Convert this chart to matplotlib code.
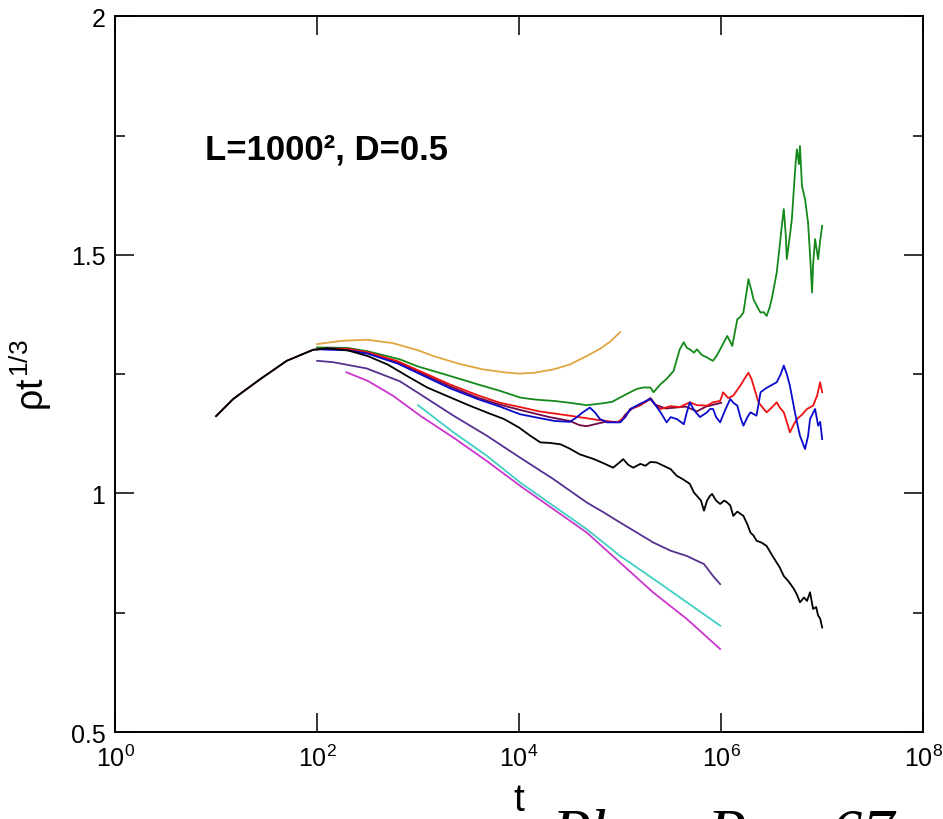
import numpy as np
import matplotlib.pyplot as plt
from matplotlib.ticker import FixedLocator, FixedFormatter, NullLocator

plt.rcParams['font.family'] = ['Liberation Sans', 'DejaVu Sans']
plt.rcParams['mathtext.fontset'] = 'custom'
plt.rcParams['mathtext.rm'] = 'Liberation Sans'
plt.rcParams['mathtext.it'] = 'Liberation Sans'
plt.rcParams['mathtext.bf'] = 'Liberation Sans:bold'

# --- data (log10 t, rho*t^(1/3)) ---
lt_black = [1.0, 1.17, 1.44, 1.70, 1.96, 2.1, 2.3, 2.5, 2.7, 2.9, 3.09, 3.3, 3.51, 3.7, 3.85, 4.0,
            4.11, 4.21, 4.3, 4.41, 4.5, 4.6, 4.74, 4.85, 4.93, 5.0, 5.03, 5.08, 5.13, 5.2, 5.25,
            5.3, 5.36, 5.43, 5.5, 5.56, 5.62, 5.69, 5.73, 5.76, 5.8, 5.83, 5.86, 5.89, 5.91, 5.95,
            5.99, 6.03, 6.06, 6.09, 6.12, 6.16, 6.22, 6.26, 6.29, 6.32, 6.35, 6.4, 6.45, 6.5, 6.55,
            6.58, 6.62, 6.67, 6.72, 6.75, 6.78, 6.82, 6.85, 6.88, 6.91, 6.94, 6.96, 6.98, 7.0]
y_black = [1.162, 1.198, 1.240, 1.278, 1.301, 1.304, 1.300, 1.288, 1.270, 1.245, 1.222, 1.203,
           1.184, 1.168, 1.156, 1.138, 1.121, 1.107, 1.106, 1.103, 1.094, 1.082, 1.072, 1.062,
           1.054, 1.066, 1.072, 1.060, 1.054, 1.062, 1.058, 1.066, 1.065, 1.058, 1.051, 1.037,
           1.030, 1.020, 1.002, 0.995, 0.985, 0.964, 0.985, 0.995, 0.999, 0.985, 0.978, 0.985,
           0.981, 0.975, 0.953, 0.962, 0.953, 0.935, 0.918, 0.912, 0.901, 0.897, 0.890, 0.872,
           0.855, 0.845, 0.827, 0.815, 0.800, 0.788, 0.772, 0.782, 0.775, 0.793, 0.758, 0.762,
           0.744, 0.738, 0.719]

lt_green = [2.0, 2.3, 2.5, 2.82, 3.0, 3.32, 3.6, 3.81, 4.01, 4.11, 4.2, 4.34, 4.5, 4.67, 4.83,
            4.92, 5.0, 5.08, 5.165, 5.23, 5.30, 5.33, 5.40, 5.46, 5.53, 5.56, 5.59, 5.63, 5.66,
            5.69, 5.73, 5.76, 5.81, 5.86, 5.89, 5.92, 5.96, 5.99, 6.03, 6.06, 6.09, 6.11, 6.16,
            6.19, 6.22, 6.25, 6.27, 6.30, 6.32, 6.36, 6.39, 6.42, 6.45, 6.48, 6.50, 6.53, 6.55,
            6.58, 6.60, 6.62, 6.64, 6.65, 6.68, 6.70, 6.72, 6.74, 6.75, 6.77, 6.78, 6.80, 6.83,
            6.86, 6.88, 6.90, 6.91, 6.93, 6.95, 6.96, 6.98, 7.0]
y_green = [1.306, 1.305, 1.298, 1.281, 1.266, 1.246, 1.228, 1.215, 1.201, 1.198, 1.196, 1.194,
           1.190, 1.185, 1.189, 1.192, 1.201, 1.210, 1.219, 1.222, 1.222, 1.212, 1.229, 1.240,
           1.257, 1.280, 1.302, 1.317, 1.305, 1.302, 1.295, 1.302, 1.290, 1.285, 1.281, 1.278,
           1.290, 1.302, 1.318, 1.330, 1.318, 1.309, 1.365, 1.370, 1.379, 1.420, 1.449, 1.425,
           1.407, 1.390, 1.379, 1.380, 1.372, 1.390, 1.407, 1.440, 1.463, 1.520, 1.560, 1.596,
           1.540, 1.491, 1.540, 1.575, 1.640, 1.700, 1.721, 1.690, 1.728, 1.644, 1.617, 1.568,
           1.500, 1.421, 1.480, 1.533, 1.505, 1.491, 1.530, 1.561]

lt_red = [2.0, 2.3, 2.5, 2.8, 3.0, 3.32, 3.6, 3.81, 4.01, 4.2, 4.5, 4.75, 4.97, 5.05, 5.10, 5.2,
          5.30, 5.35, 5.40, 5.5, 5.59, 5.69, 5.76, 5.86, 5.92, 5.99, 6.02, 6.07, 6.12, 6.19, 6.23,
          6.27, 6.30, 6.32, 6.37, 6.41, 6.45, 6.50, 6.55, 6.58, 6.62, 6.65, 6.68, 6.72, 6.75,
          6.80, 6.85, 6.91, 6.95, 6.98, 7.0]
y_red = [1.303, 1.303, 1.296, 1.277, 1.258, 1.228, 1.205, 1.190, 1.181, 1.172, 1.163, 1.155,
         1.149, 1.160, 1.177, 1.185, 1.198, 1.185, 1.177, 1.183, 1.181, 1.191, 1.185, 1.184,
         1.191, 1.194, 1.212, 1.200, 1.205, 1.226, 1.240, 1.253, 1.240, 1.226, 1.191, 1.180,
         1.170, 1.180, 1.191, 1.180, 1.170, 1.150, 1.128, 1.145, 1.156, 1.165, 1.177, 1.184,
         1.205, 1.233, 1.212]

lt_blue = [2.0, 2.3, 2.5, 2.8, 3.0, 3.32, 3.6, 3.81, 4.01, 4.2, 4.35, 4.5, 4.56, 4.63, 4.70,
           4.75, 4.80, 4.87, 5.0, 5.05, 5.10, 5.2, 5.30, 5.35, 5.40, 5.46, 5.50, 5.56, 5.60,
           5.63, 5.66, 5.69, 5.73, 5.79, 5.86, 5.89, 5.92, 5.95, 5.99, 6.04, 6.09, 6.12, 6.16,
           6.19, 6.22, 6.26, 6.29, 6.35, 6.39, 6.44, 6.49, 6.55, 6.59, 6.62, 6.65, 6.68, 6.73,
           6.76, 6.78, 6.83, 6.86, 6.88, 6.93, 6.96, 6.98, 7.0]
y_blue = [1.302, 1.300, 1.293, 1.272, 1.252, 1.220, 1.197, 1.182, 1.166, 1.158, 1.152, 1.150,
          1.158, 1.170, 1.180, 1.170, 1.156, 1.149, 1.149, 1.160, 1.177, 1.188, 1.198, 1.185,
          1.170, 1.149, 1.160, 1.156, 1.150, 1.145, 1.170, 1.191, 1.175, 1.160, 1.170, 1.177,
          1.177, 1.160, 1.149, 1.175, 1.198, 1.190, 1.184, 1.160, 1.142, 1.160, 1.170, 1.163,
          1.212, 1.220, 1.226, 1.233, 1.250, 1.268, 1.250, 1.226, 1.170, 1.140, 1.121, 1.093,
          1.120, 1.156, 1.177, 1.142, 1.150, 1.114]

lt_maroon = [1.0, 1.17, 1.44, 1.70, 1.96, 2.1, 2.3, 2.5, 2.8, 3.0, 3.32, 3.6, 3.81, 4.01, 4.3,
             4.5, 4.6, 4.67, 4.75, 4.85, 5.0, 5.05, 5.12, 5.2, 5.3, 5.35, 5.45, 5.55, 5.65,
             5.76, 5.85, 6.0]
y_maroon = [1.162, 1.198, 1.240, 1.278, 1.301, 1.304, 1.303, 1.295, 1.275, 1.255, 1.224, 1.200,
            1.186, 1.175, 1.160, 1.152, 1.143, 1.141, 1.145, 1.150, 1.150, 1.165, 1.178, 1.185,
            1.200, 1.186, 1.178, 1.180, 1.182, 1.172, 1.182, 1.190]

lt_orange = [2.0, 2.25, 2.5, 2.75, 3.0, 3.15, 3.4, 3.64, 3.85, 4.0, 4.15, 4.34, 4.5, 4.67, 4.8,
             4.9, 5.0]
y_orange = [1.313, 1.320, 1.322, 1.315, 1.300, 1.288, 1.272, 1.260, 1.254, 1.251, 1.253, 1.260,
            1.270, 1.288, 1.303, 1.318, 1.338]

lt_violet = [2.0, 2.16, 2.49, 2.82, 3.02, 3.35, 3.68, 4.01, 4.34, 4.67, 4.84, 5.0, 5.15, 5.33,
             5.5, 5.66, 5.75, 5.83, 5.92, 5.99]
y_violet = [1.278, 1.275, 1.262, 1.235, 1.208, 1.163, 1.121, 1.075, 1.030, 0.981, 0.960, 0.939,
            0.920, 0.897, 0.880, 0.869, 0.860, 0.852, 0.827, 0.810]

lt_cyan = [3.0, 3.35, 3.68, 4.01, 4.34, 4.67, 5.0, 5.33, 5.66, 5.99]
y_cyan = [1.185, 1.128, 1.079, 1.023, 0.974, 0.925, 0.869, 0.821, 0.772, 0.723]

lt_magenta = [2.29, 2.5, 2.75, 3.02, 3.35, 3.68, 4.01, 4.34, 4.67, 5.0, 5.33, 5.66, 5.99]
y_magenta = [1.254, 1.236, 1.205, 1.163, 1.117, 1.068, 1.016, 0.967, 0.918, 0.855, 0.792, 0.737,
             0.674]

series = [
    (lt_orange, y_orange, '#dfa640'),
    (lt_green, y_green, '#14891a'),
    (lt_maroon, y_maroon, '#700848'),
    (lt_red, y_red, '#ee1111'),
    (lt_blue, y_blue, '#0a0acc'),
    (lt_black, y_black, 'black'),
    (lt_violet, y_violet, '#55308f'),
    (lt_cyan, y_cyan, '#40cfc4'),
    (lt_magenta, y_magenta, '#cc36cc'),
]

xticks = [1, 1e2, 1e4, 1e6, 1e8]
xticklabels = [r'$\mathregular{10^{0}}$', r'$\mathregular{10^{2}}$', r'$\mathregular{10^{4}}$',
               r'$\mathregular{10^{6}}$', r'$\mathregular{10^{8}}$']
yticks = [0.5, 1.0, 1.5, 2.0]
yticklabels = ['0.5', '1', '1.5', '2']
yminor = [0.75, 1.25, 1.75]

fig = plt.figure(figsize=(9.43, 8.2), dpi=100)
ax = fig.add_axes([0.122, 0.106, 0.857, 0.873])

for lt, y, c in series:
    ax.plot(10 ** np.array(lt), y, color=c, lw=1.3)

ax.set_xscale('log')
ax.set_xlim(1, 1e8)
ax.set_ylim(0.5, 2)
ax.xaxis.set_major_locator(FixedLocator(xticks))
ax.xaxis.set_major_formatter(FixedFormatter(xticklabels))
ax.xaxis.set_minor_locator(NullLocator())
ax.yaxis.set_major_locator(FixedLocator(yticks))
ax.yaxis.set_major_formatter(FixedFormatter(yticklabels))
ax.yaxis.set_minor_locator(FixedLocator(yminor))

ax.tick_params(which='both', direction='in', top=True, right=True, width=1.1, labelsize=18)
ax.tick_params(which='major', length=14)
ax.tick_params(which='minor', length=7)
ax.tick_params(axis='y', pad=7)
ax.tick_params(axis='x', pad=9)
for s in ax.spines.values():
    s.set_linewidth(1.4)

ax.set_xlabel('t', fontsize=28, labelpad=8)
ax.set_ylabel(r'$\rho t^{1/3}$', fontsize=27, labelpad=12)

fig.text(0.217, 0.805, 'L=1000², D=0.5', fontsize=25, fontweight='bold')
fig.text(0.585, -0.04, 'Phys. Rev. 67', fontsize=46, style='italic',
         family='Liberation Serif', va='baseline')

fig.savefig('out.png', dpi=100)
